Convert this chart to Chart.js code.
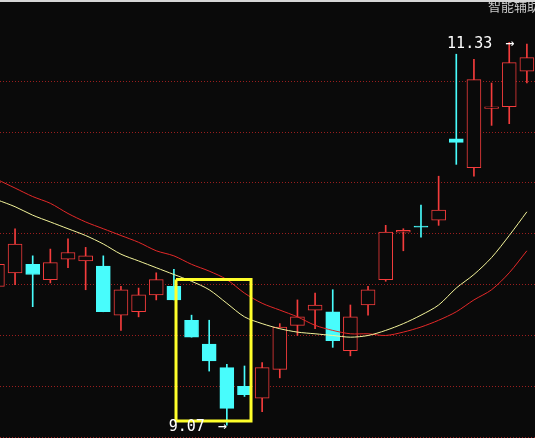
<!DOCTYPE html>
<html>
<head>
<meta charset="utf-8">
<script src="https://cdn.jsdelivr.net/npm/chart.js@4.4.1/dist/chart.umd.min.js"></script>
<style>
  html, body { margin: 0; padding: 0; background: #0a0a0a; }
  canvas { display: block; }
</style>
</head>
<body>
<canvas id="kline" width="535" height="438"></canvas>
<script>
// daily candles, left to right (index = trading day in view)
const days  = [0, 1, 2, 3, 4, 5, 6, 7, 8, 9, 10, 11, 12, 13, 14, 15, 16, 17, 18, 19, 20, 21, 22, 23, 24, 25, 26, 27, 28, 29, 30];
const open  = [9.89, 9.97, 10.02, 9.93, 10.05, 10.04, 10.01, 9.72, 9.74, 9.84, 9.89, 9.69, 9.55, 9.41, 9.30, 9.23, 9.40, 9.66, 9.75, 9.74, 9.51, 9.78, 9.93, 10.21, 10.245, 10.28, 10.76, 10.59, 10.94, 10.95, 11.16];
const high  = [10.04, 10.23, 10.07, 10.11, 10.17, 10.12, 10.07, 9.89, 9.88, 9.97, 9.99, 9.72, 9.69, 9.43, 9.42, 9.44, 9.67, 9.81, 9.85, 9.87, 9.78, 9.89, 10.25, 10.23, 10.37, 10.54, 11.26, 11.23, 11.09, 11.33, 11.32];
const low   = [9.87, 9.90, 9.77, 9.91, 10.00, 9.87, 9.74, 9.63, 9.71, 9.81, 9.81, 9.59, 9.39, 9.07, 9.24, 9.15, 9.35, 9.60, 9.64, 9.53, 9.48, 9.72, 9.92, 10.10, 10.18, 10.25, 10.61, 10.54, 10.84, 10.85, 11.09];
const close = [10.02, 10.14, 9.96, 10.03, 10.09, 10.07, 9.74, 9.87, 9.84, 9.93, 9.81, 9.59, 9.45, 9.17, 9.25, 9.41, 9.65, 9.71, 9.78, 9.57, 9.71, 9.87, 10.21, 10.22, 10.24, 10.34, 10.74, 11.11, 10.95, 11.21, 11.24];

// moving averages (short = yellow, long = red)
const maShort = [10.40, 10.36, 10.31, 10.27, 10.23, 10.19, 10.14, 10.08, 10.04, 10.00, 9.96, 9.92, 9.87, 9.79, 9.71, 9.67, 9.64, 9.62, 9.61, 9.60, 9.59, 9.60, 9.63, 9.67, 9.72, 9.78, 9.88, 9.96, 10.06, 10.19, 10.33];
const maLong  = [10.52, 10.47, 10.42, 10.38, 10.32, 10.27, 10.23, 10.19, 10.15, 10.10, 10.07, 10.02, 9.98, 9.93, 9.85, 9.79, 9.75, 9.71, 9.66, 9.63, 9.61, 9.61, 9.60, 9.62, 9.65, 9.69, 9.74, 9.81, 9.87, 9.97, 10.10];

// price levels of the dotted grid
const gridLevels = [9.0, 9.3, 9.6, 9.9, 10.2, 10.5, 10.8, 11.1];

// yellow highlight box: days 10..14, price range
const boxDays   = [10.12, 14.37];
const boxPrices = [9.095, 9.93];

const UP = '#f43c3c';
const DOWN = '#48fcfc';
const BG = '#0a0a0a';

const isUp = i => close[i] >= open[i];

const overlay = {
  id: 'overlay',
  beforeDraw(chart) {
    const ctx = chart.ctx;
    ctx.save();
    ctx.fillStyle = BG;
    ctx.fillRect(0, 0, chart.width, chart.height);
    ctx.restore();
  },
  afterDraw(chart) {
    const { ctx, scales: { x, y } } = chart;
    ctx.save();
    // hi / lo markers
    const hiIdx = high.indexOf(Math.max(...high));
    const loIdx = low.indexOf(Math.min(...low));
    const marks = [
      { i: hiIdx, v: high[hiIdx], tip: 5 },
      { i: loIdx, v: low[loIdx], tip: 0 }
    ];
    ctx.fillStyle = '#ffffff';
    ctx.font = '15px "DejaVu Sans Mono"';
    ctx.textBaseline = 'middle';
    marks.forEach(m => {
      const px = x.getPixelForValue(m.i) + m.tip;
      const py = y.getPixelForValue(m.v) + 2;
      ctx.textAlign = 'right';
      ctx.fillText('\u2192', px, py);
      ctx.fillText(m.v.toFixed(2), px - 22, py);
    });
    // corner caption
    ctx.fillStyle = '#c8c8c8';
    ctx.font = '13px "Noto Sans CJK SC"';
    ctx.textAlign = 'left';
    ctx.textBaseline = 'top';
    ctx.fillText('智能辅助', 488, 0);
    ctx.fillStyle = '#d6d6d6';
    ctx.fillRect(0, 0, chart.width, 2);
    ctx.restore();
  }
};

new Chart(document.getElementById('kline'), {
  type: 'bar',
  data: {
    datasets: [
      {
        type: 'line',
        label: 'box',
        data: [
          { x: boxDays[0], y: boxPrices[1] },
          { x: boxDays[1], y: boxPrices[1] },
          { x: boxDays[1], y: boxPrices[0] },
          { x: boxDays[0], y: boxPrices[0] },
          { x: boxDays[0], y: boxPrices[1] }
        ],
        borderColor: '#ffff2a',
        borderWidth: 3,
        borderJoinStyle: 'miter',
        pointRadius: 0,
        fill: false,
        order: 0
      },
      {
        type: 'line',
        label: 'MA short',
        data: days.map(i => ({ x: i, y: maShort[i] })),
        borderColor: '#f4f49a',
        borderWidth: 1,
        pointRadius: 0,
        tension: 0.3,
        order: 1
      },
      {
        type: 'line',
        label: 'MA long',
        data: days.map(i => ({ x: i, y: maLong[i] })),
        borderColor: '#e42828',
        borderWidth: 1,
        pointRadius: 0,
        tension: 0.3,
        order: 1
      },
      {
        label: 'body',
        data: days.map(i => ({ x: i, y: [open[i], close[i]] })),
        backgroundColor: c => isUp(c.dataIndex) ? BG : DOWN,
        borderColor: c => isUp(c.dataIndex) ? UP : DOWN,
        borderWidth: 1,
        borderSkipped: false,
        barThickness: 14,
        grouped: false,
        order: 2
      },
      {
        label: 'wick',
        data: days.map(i => ({ x: i, y: [low[i], high[i]] })),
        backgroundColor: c => isUp(c.dataIndex) ? UP : DOWN,
        borderWidth: 0,
        barThickness: 1,
        grouped: false,
        order: 3
      }
    ]
  },
  options: {
    responsive: false,
    animation: false,
    devicePixelRatio: 1,
    layout: { padding: 0 },
    plugins: { legend: { display: false }, tooltip: { enabled: false } },
    scales: {
      x: { type: 'linear', min: 0.147, max: 30.46, offset: false, display: false },
      y: {
        min: 8.995,
        max: 11.58,
        ticks: { display: false },
        grid: { color: '#9a1e1e', drawTicks: false, lineWidth: 1 },
        border: { display: false, dash: [1, 2] },
        afterBuildTicks: s => { s.ticks = gridLevels.map(v => ({ value: v })); },
        afterFit: s => { s.width = 0; }
      }
    }
  },
  plugins: [overlay]
});
</script>
</body>
</html>
